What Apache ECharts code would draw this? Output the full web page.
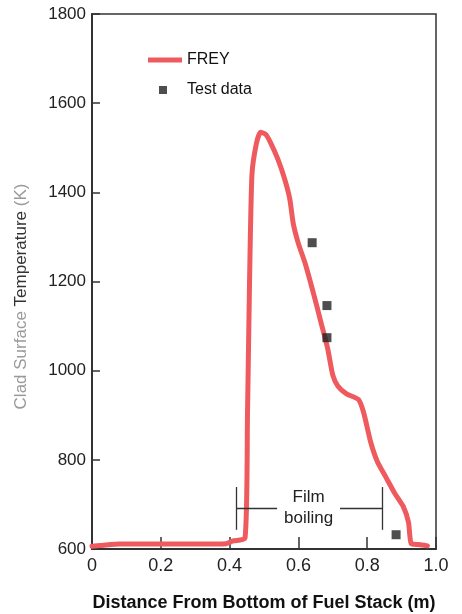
<!DOCTYPE html>
<html>
<head>
<meta charset="utf-8">
<script src="https://cdn.jsdelivr.net/npm/echarts@6/dist/echarts.min.js"></script>
<style>
  html, body { margin: 0; padding: 0; background: #fff; }
  #chart { width: 462px; height: 614px; }
</style>
</head>
<body>
<div id="chart"></div>
<script>
// FREY calculation: [distance (m), temperature (K)]
var freyCurve = [
    [0, 606], [0.04, 609], [0.08, 611], [0.2, 611], [0.3, 611], [0.39, 612],
    [0.41, 618], [0.445, 625], [0.452, 900], [0.458, 1200], [0.465, 1440],
    [0.478, 1510], [0.49, 1535], [0.505, 1530], [0.52, 1510], [0.54, 1475],
    [0.56, 1430], [0.575, 1385], [0.585, 1330], [0.6, 1285], [0.62, 1240],
    [0.645, 1170], [0.665, 1110], [0.685, 1050], [0.7, 990], [0.715, 965],
    [0.74, 948], [0.775, 935], [0.79, 905], [0.81, 840], [0.83, 795],
    [0.855, 760], [0.88, 725], [0.905, 695], [0.92, 660], [0.928, 612],
    [0.95, 610], [0.975, 607]
];
var testData = [[0.64, 1287], [0.683, 1146], [0.683, 1074], [0.884, 632]];

// film boiling bracket (data coords)
var filmStart = 0.42, filmEnd = 0.843;
var filmLow = 643, filmHigh = 739, filmMid = 692;
var filmGapLeft = 0.538, filmGapRight = 0.721;

var font = "'Liberation Sans', Arial, Helvetica, sans-serif";
var red = '#ef5a5f';

var myChart = echarts.init(document.getElementById('chart'));
var option = {
    animation: false,
    backgroundColor: '#fff',
    textStyle: { fontFamily: font },
    grid: {
        left: 92, right: 26, top: 14, bottom: 65,
        outerBoundsMode: 'none',
        show: true, borderColor: '#333', borderWidth: 1.5, backgroundColor: 'transparent'
    },
    legend: [{
        data: ['FREY'],
        left: 143, top: 47,
        icon: 'rect',
        itemWidth: 34, itemHeight: 5,
        textStyle: { fontSize: 16, color: '#111', fontFamily: font }
    }, {
        data: ['Test data'],
        left: 154, top: 77,
        itemWidth: 8, itemHeight: 8,
        icon: 'rect',
        textStyle: { fontSize: 16, color: '#111', fontFamily: font, padding: [0, 0, 0, 15] }
    }],
    xAxis: {
        type: 'value', min: 0, max: 1, interval: 0.2,
        name: 'Distance From Bottom of Fuel Stack (m)',
        nameLocation: 'middle', nameGap: 45,
        nameTextStyle: { fontSize: 18, fontWeight: 'bold', color: '#111', fontFamily: font },
        axisLine: { lineStyle: { color: '#333', width: 2 } },
        axisTick: { inside: true, length: 12, lineStyle: { color: '#333', width: 1.5 } },
        axisLabel: {
            fontSize: 18, color: '#222', margin: 8, fontFamily: font,
            formatter: function (v) { return v === 0 ? '0' : v.toFixed(1); }
        },
        splitLine: { show: false }
    },
    yAxis: {
        type: 'value', min: 600, max: 1800, interval: 200,
        name: '{a|Clad Surface }{b|Temperature}{a| (K)}',
        nameLocation: 'middle', nameGap: 62, nameRotate: 90,
        nameTextStyle: {
            fontSize: 17, fontFamily: font, padding: [0, 30, 0, 0],
            rich: {
                a: { fontSize: 17, color: '#9a9a9a', fontFamily: font },
                b: { fontSize: 17, color: '#333', fontFamily: font }
            }
        },
        axisLine: { show: true, lineStyle: { color: '#333', width: 2 } },
        axisTick: { show: true, inside: true, length: 8, lineStyle: { color: '#333', width: 1.5 } },
        axisLabel: {
            fontSize: 17, color: '#222', margin: 6, fontFamily: font,
            formatter: function (v) { return String(v); }
        },
        splitLine: { show: false }
    },
    series: [{
        name: 'FREY',
        type: 'line',
        data: freyCurve,
        symbol: 'none',
        smooth: 0.2,
        lineStyle: { color: red, width: 5, join: 'round', cap: 'round' },
        itemStyle: { color: red },
        z: 3
    }, {
        name: 'Test data',
        type: 'scatter',
        data: testData,
        symbol: 'rect',
        symbolSize: 9,
        itemStyle: { color: '#222' },
        z: 4
    }, {
        name: 'Film boiling',
        type: 'line',
        data: [],
        markLine: {
            silent: true,
            symbol: ['none', 'none'],
            label: { show: false },
            lineStyle: { color: '#333', width: 1.3, type: 'solid' },
            data: [
                [{ coord: [filmStart, filmLow] }, { coord: [filmStart, filmHigh] }],
                [{ coord: [filmEnd, filmLow] }, { coord: [filmEnd, filmHigh] }],
                [{ coord: [filmStart, filmMid] }, { coord: [filmGapLeft, filmMid] }],
                [{ coord: [filmGapRight, filmMid] }, { coord: [filmEnd, filmMid] }]
            ]
        },
        markPoint: {
            silent: true,
            symbol: 'rect',
            symbolSize: 0,
            label: {
                show: true, position: 'inside', fontSize: 17, color: '#222',
                fontFamily: font, lineHeight: 21,
                formatter: 'Film\nboiling'
            },
            data: [{ coord: [(filmGapLeft + filmGapRight) / 2, filmMid] }]
        }
    }]
};
myChart.setOption(option);
</script>
</body>
</html>
